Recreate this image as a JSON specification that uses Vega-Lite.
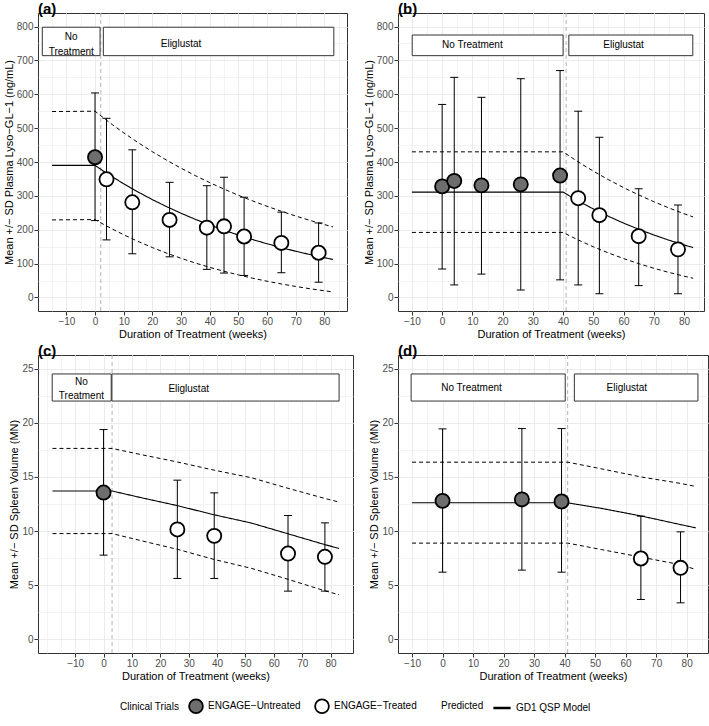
{
  "$schema": "https://vega.github.io/schema/vega-lite/v6.json",
  "padding": {"left": 2, "top": 1, "right": 3, "bottom": 0},
  "datasets": {
    "a_obs": [
      {"t": 0, "mean": 414, "lo": 227, "hi": 604, "group": "ENGAGE−Untreated"},
      {"t": 4, "mean": 349, "lo": 170, "hi": 529, "group": "ENGAGE−Treated"},
      {"t": 13, "mean": 281, "lo": 129, "hi": 436, "group": "ENGAGE−Treated"},
      {"t": 26, "mean": 229, "lo": 120, "hi": 340, "group": "ENGAGE−Treated"},
      {"t": 39, "mean": 206, "lo": 83, "hi": 330, "group": "ENGAGE−Treated"},
      {"t": 45, "mean": 210, "lo": 72, "hi": 355, "group": "ENGAGE−Treated"},
      {"t": 52, "mean": 180, "lo": 65, "hi": 296, "group": "ENGAGE−Treated"},
      {"t": 65, "mean": 161, "lo": 73, "hi": 252, "group": "ENGAGE−Treated"},
      {"t": 78, "mean": 132, "lo": 45, "hi": 220, "group": "ENGAGE−Treated"}
    ],
    "a_model": [
      {"t": -15, "mean": 390, "lo": 229, "hi": 549},
      {"t": 0, "mean": 390, "lo": 230, "hi": 550},
      {"t": 3, "mean": 372.8, "lo": 215.7, "hi": 529.9},
      {"t": 6, "mean": 356.4, "lo": 202.2, "hi": 510.6},
      {"t": 10, "mean": 335.7, "lo": 185.2, "hi": 486.2},
      {"t": 15, "mean": 311.4, "lo": 165.5, "hi": 457.3},
      {"t": 20, "mean": 288.9, "lo": 147.4, "hi": 430.4},
      {"t": 25, "mean": 268.0, "lo": 130.8, "hi": 405.2},
      {"t": 30, "mean": 248.7, "lo": 115.7, "hi": 381.7},
      {"t": 35, "mean": 230.7, "lo": 101.7, "hi": 359.7},
      {"t": 40, "mean": 214.0, "lo": 88.9, "hi": 339.1},
      {"t": 45, "mean": 198.6, "lo": 77.3, "hi": 319.9},
      {"t": 50, "mean": 184.2, "lo": 66.6, "hi": 301.8},
      {"t": 55, "mean": 170.9, "lo": 56.8, "hi": 285.0},
      {"t": 60, "mean": 158.6, "lo": 48.0, "hi": 269.2},
      {"t": 65, "mean": 147.1, "lo": 39.8, "hi": 254.4},
      {"t": 70, "mean": 136.5, "lo": 32.5, "hi": 240.5},
      {"t": 75, "mean": 126.6, "lo": 25.7, "hi": 227.5},
      {"t": 80, "mean": 117.5, "lo": 19.7, "hi": 215.3},
      {"t": 83, "mean": 112.3, "lo": 16.3, "hi": 208.3}
    ],
    "a_box": [
      {"label": "No\nTreatment", "x1": -18.4, "x2": 1.75, "y1": 714, "y2": 798, "tx": -8.3, "ty": 770},
      {"label": "Eliglustat", "x1": 2.9, "x2": 83.3, "y1": 714, "y2": 798, "tx": 30, "ty": 749}
    ],
    "a_vline": [{"t": 2}],
    "b_obs": [
      {"t": 0, "mean": 328, "lo": 84, "hi": 570, "group": "ENGAGE−Untreated"},
      {"t": 4, "mean": 344, "lo": 37, "hi": 650, "group": "ENGAGE−Untreated"},
      {"t": 13, "mean": 331, "lo": 69, "hi": 591, "group": "ENGAGE−Untreated"},
      {"t": 26, "mean": 334, "lo": 22, "hi": 646, "group": "ENGAGE−Untreated"},
      {"t": 39, "mean": 360, "lo": 52, "hi": 670, "group": "ENGAGE−Untreated"},
      {"t": 45, "mean": 293, "lo": 37, "hi": 550, "group": "ENGAGE−Treated"},
      {"t": 52, "mean": 243, "lo": 11, "hi": 473, "group": "ENGAGE−Treated"},
      {"t": 65, "mean": 181, "lo": 35, "hi": 321, "group": "ENGAGE−Treated"},
      {"t": 78, "mean": 142, "lo": 11, "hi": 273, "group": "ENGAGE−Treated"}
    ],
    "b_model": [
      {"t": -10, "mean": 311, "lo": 192, "hi": 430},
      {"t": 40, "mean": 311, "lo": 192, "hi": 430},
      {"t": 43, "mean": 295.2, "lo": 178.4, "hi": 412.0},
      {"t": 46, "mean": 280.2, "lo": 165.7, "hi": 394.7},
      {"t": 50, "mean": 261.3, "lo": 149.6, "hi": 373.0},
      {"t": 55, "mean": 239.6, "lo": 131.4, "hi": 347.8},
      {"t": 60, "mean": 219.6, "lo": 114.8, "hi": 324.4},
      {"t": 65, "mean": 201.3, "lo": 99.8, "hi": 302.8},
      {"t": 70, "mean": 184.5, "lo": 86.2, "hi": 282.8},
      {"t": 75, "mean": 169.1, "lo": 73.9, "hi": 264.3},
      {"t": 80, "mean": 155.1, "lo": 62.9, "hi": 247.3},
      {"t": 83, "mean": 147.2, "lo": 56.7, "hi": 237.7}
    ],
    "b_box": [
      {"label": "No Treatment", "x1": -9.9, "x2": 40, "y1": 714, "y2": 775, "tx": 10, "ty": 745},
      {"label": "Eliglustat", "x1": 41.9, "x2": 82.9, "y1": 714, "y2": 775, "tx": 60, "ty": 745}
    ],
    "b_vline": [{"t": 41}],
    "c_obs": [
      {"t": 0, "mean": 13.56, "lo": 7.78, "hi": 19.37, "group": "ENGAGE−Untreated"},
      {"t": 26, "mean": 10.15, "lo": 5.63, "hi": 14.7, "group": "ENGAGE−Treated"},
      {"t": 39, "mean": 9.56, "lo": 5.63, "hi": 13.53, "group": "ENGAGE−Treated"},
      {"t": 65, "mean": 7.93, "lo": 4.46, "hi": 11.44, "group": "ENGAGE−Treated"},
      {"t": 78, "mean": 7.63, "lo": 4.46, "hi": 10.76, "group": "ENGAGE−Treated"}
    ],
    "c_model": [
      {"t": -18, "mean": 13.7, "lo": 9.77, "hi": 17.63},
      {"t": 3, "mean": 13.7, "lo": 9.77, "hi": 17.63},
      {"t": 13, "mean": 13.1, "lo": 9.13, "hi": 17.07},
      {"t": 26, "mean": 12.35, "lo": 8.32, "hi": 16.38},
      {"t": 39, "mean": 11.5, "lo": 7.38, "hi": 15.62},
      {"t": 52, "mean": 10.75, "lo": 6.57, "hi": 14.93},
      {"t": 65, "mean": 9.75, "lo": 5.55, "hi": 13.95},
      {"t": 78, "mean": 8.75, "lo": 4.49, "hi": 13.01},
      {"t": 83, "mean": 8.4, "lo": 4.12, "hi": 12.68}
    ],
    "c_box": [
      {"label": "No\nTreatment", "x1": -18.1, "x2": 2.7, "y1": 22, "y2": 24.5, "tx": -7.8, "ty": 23.77},
      {"label": "Eliglustat", "x1": 2.95, "x2": 83, "y1": 22, "y2": 24.5, "tx": 30, "ty": 23.15}
    ],
    "c_vline": [{"t": 3}],
    "d_obs": [
      {"t": 0, "mean": 12.79, "lo": 6.21, "hi": 19.43, "group": "ENGAGE−Untreated"},
      {"t": 26, "mean": 12.92, "lo": 6.4, "hi": 19.46, "group": "ENGAGE−Untreated"},
      {"t": 39, "mean": 12.73, "lo": 6.21, "hi": 19.46, "group": "ENGAGE−Untreated"},
      {"t": 65, "mean": 7.47, "lo": 3.69, "hi": 11.38, "group": "ENGAGE−Treated"},
      {"t": 78, "mean": 6.61, "lo": 3.38, "hi": 9.93, "group": "ENGAGE−Treated"}
    ],
    "d_model": [
      {"t": -10, "mean": 12.61, "lo": 8.89, "hi": 16.36},
      {"t": 41, "mean": 12.61, "lo": 8.89, "hi": 16.36},
      {"t": 52, "mean": 12.1, "lo": 8.3, "hi": 15.75},
      {"t": 65, "mean": 11.4, "lo": 7.6, "hi": 15.0},
      {"t": 78, "mean": 10.6, "lo": 6.9, "hi": 14.4},
      {"t": 83, "mean": 10.3, "lo": 6.46, "hi": 14.12}
    ],
    "d_box": [
      {"label": "No Treatment", "x1": -10.3, "x2": 40.2, "y1": 22, "y2": 24.5, "tx": 9.5, "ty": 23.2},
      {"label": "Eliglustat", "x1": 43.2, "x2": 83.7, "y1": 22, "y2": 24.5, "tx": 60.4, "ty": 23.2}
    ],
    "d_vline": [{"t": 41}]
  },
  "vconcat": [
    {
      "hconcat": [
        {
          "title": "(a)",
          "width": 309, "height": 298,
          "layer": [
            {
              "data": {"name": "a_obs"},
              "mark": {"type": "point", "opacity": 0, "filled": true},
              "encoding": {
                "x": {"field": "t", "type": "quantitative", "scale": {"domain": [-19.9, 87.9], "nice": false, "zero": false},
                  "axis": {"orient": "bottom", "values": [-15,-10,-5,0,5,10,15,20,25,30,35,40,45,50,55,60,65,70,75,80,85], "tickCount": 60, "grid": true, "gridWidth": 0.6, "labels": false, "ticks": false, "domain": false, "title": null}},
                "y": {"field": "mean", "type": "quantitative", "scale": {"domain": [-40, 840], "nice": false, "zero": false},
                  "axis": {"orient": "left", "values": [0,50,100,150,200,250,300,350,400,450,500,550,600,650,700,750,800], "tickCount": 60, "grid": true, "gridWidth": 0.6, "labels": false, "ticks": false, "domain": false, "title": null}},
                "fill": {"field": "group", "type": "nominal", "scale": {"domain": ["ENGAGE−Untreated", "ENGAGE−Treated"], "range": ["#6e6e6e", "#ffffff"]},
                  "legend": {"title": "Clinical Trials", "symbolStrokeColor": "black", "symbolStrokeWidth": 1.8, "symbolSize": 190, "symbolOpacity": 1}}
              }
            },
            {
              "layer": [
                {
                  "data": {"name": "a_vline"},
                  "mark": {"type": "rule", "color": "#b3b3b3", "strokeDash": [4, 3], "strokeWidth": 1},
                  "encoding": {"x": {"field": "t", "type": "quantitative", "title": "Duration of Treatment (weeks)",
                    "axis": {"orient": "bottom", "values": [-10,0,10,20,30,40,50,60,70,80], "format": "d", "tickCount": 60, "grid": true, "gridWidth": 1}}}
                },
                {
                  "data": {"name": "a_model"},
                  "mark": {"type": "line", "color": "black", "strokeWidth": 1.1},
                  "encoding": {
                    "x": {"field": "t", "type": "quantitative", "title": "Duration of Treatment (weeks)"},
                    "y": {"field": "mean", "type": "quantitative", "title": "Mean +/− SD Plasma Lyso−GL−1 (ng/mL)",
                      "axis": {"orient": "left", "values": [0,100,200,300,400,500,600,700,800], "format": "d", "tickCount": 60, "grid": true, "gridWidth": 1}},
                    "strokeDash": {"datum": "GD1 QSP Model", "type": "nominal", "scale": {"domain": ["GD1 QSP Model"], "range": [[1, 0]]},
                      "legend": {"title": "Predicted", "symbolStrokeWidth": 2.5, "symbolSize": 300, "symbolStrokeColor": "black"}}
                  }
                },
                {
                  "data": {"name": "a_model"},
                  "mark": {"type": "line", "color": "black", "strokeWidth": 1, "strokeDash": [4, 3]},
                  "encoding": {"x": {"field": "t", "type": "quantitative", "title": "Duration of Treatment (weeks)"}, "y": {"field": "lo", "type": "quantitative", "title": "Mean +/− SD Plasma Lyso−GL−1 (ng/mL)"}}
                },
                {
                  "data": {"name": "a_model"},
                  "mark": {"type": "line", "color": "black", "strokeWidth": 1, "strokeDash": [4, 3]},
                  "encoding": {"x": {"field": "t", "type": "quantitative", "title": "Duration of Treatment (weeks)"}, "y": {"field": "hi", "type": "quantitative", "title": "Mean +/− SD Plasma Lyso−GL−1 (ng/mL)"}}
                },
                {
                  "data": {"name": "a_obs"},
                  "mark": {"type": "rule", "color": "black", "strokeWidth": 1},
                  "encoding": {"x": {"field": "t", "type": "quantitative", "title": "Duration of Treatment (weeks)"}, "y": {"field": "lo", "type": "quantitative", "title": "Mean +/− SD Plasma Lyso−GL−1 (ng/mL)"}, "y2": {"field": "hi"}}
                },
                {
                  "data": {"name": "a_obs"},
                  "mark": {"type": "tick", "orient": "horizontal", "size": 8, "thickness": 1, "color": "black", "opacity": 1},
                  "encoding": {"x": {"field": "t", "type": "quantitative", "title": "Duration of Treatment (weeks)"}, "y": {"field": "lo", "type": "quantitative", "title": "Mean +/− SD Plasma Lyso−GL−1 (ng/mL)"}}
                },
                {
                  "data": {"name": "a_obs"},
                  "mark": {"type": "tick", "orient": "horizontal", "size": 8, "thickness": 1, "color": "black", "opacity": 1},
                  "encoding": {"x": {"field": "t", "type": "quantitative", "title": "Duration of Treatment (weeks)"}, "y": {"field": "hi", "type": "quantitative", "title": "Mean +/− SD Plasma Lyso−GL−1 (ng/mL)"}}
                },
                {
                  "data": {"name": "a_obs"},
                  "mark": {"type": "point", "shape": "circle", "filled": true, "size": 200, "stroke": "black", "strokeWidth": 1.8, "opacity": 1},
                  "encoding": {
                    "x": {"field": "t", "type": "quantitative", "title": "Duration of Treatment (weeks)"},
                    "y": {"field": "mean", "type": "quantitative", "title": "Mean +/− SD Plasma Lyso−GL−1 (ng/mL)"},
                    "fill": {"field": "group", "type": "nominal"}
                  }
                },
                {
                  "data": {"name": "a_box"},
                  "mark": {"type": "rect", "fill": "white", "stroke": "#333333", "strokeWidth": 1},
                  "encoding": {"x": {"field": "x1", "type": "quantitative", "title": "Duration of Treatment (weeks)"}, "x2": {"field": "x2"}, "y": {"field": "y1", "type": "quantitative", "title": "Mean +/− SD Plasma Lyso−GL−1 (ng/mL)"}, "y2": {"field": "y2"}}
                },
                {
                  "data": {"name": "a_box"},
                  "mark": {"type": "text", "fontSize": 10, "lineBreak": "\n", "lineHeight": 15, "align": "center", "baseline": "middle", "color": "black"},
                  "encoding": {"x": {"field": "tx", "type": "quantitative", "title": "Duration of Treatment (weeks)"}, "y": {"field": "ty", "type": "quantitative", "title": "Mean +/− SD Plasma Lyso−GL−1 (ng/mL)"}, "text": {"field": "label", "type": "nominal"}}
                }
              ]
            }
          ],
          "resolve": {"axis": {"x": "independent", "y": "independent"}}
        },
        {
          "title": "(b)",
          "width": 306, "height": 298,
          "layer": [
            {
              "data": {"name": "b_obs"},
              "mark": {"type": "point", "opacity": 0},
              "encoding": {
                "x": {"field": "t", "type": "quantitative", "scale": {"domain": [-14.6, 86.6], "nice": false, "zero": false},
                  "axis": {"orient": "bottom", "values": [-10,-5,0,5,10,15,20,25,30,35,40,45,50,55,60,65,70,75,80,85], "tickCount": 60, "grid": true, "gridWidth": 0.6, "labels": false, "ticks": false, "domain": false, "title": null}},
                "y": {"field": "mean", "type": "quantitative", "scale": {"domain": [-40, 840], "nice": false, "zero": false},
                  "axis": {"orient": "left", "values": [0,50,100,150,200,250,300,350,400,450,500,550,600,650,700,750,800], "tickCount": 60, "grid": true, "gridWidth": 0.6, "labels": false, "ticks": false, "domain": false, "title": null}}
              }
            },
            {
              "layer": [
                {
                  "data": {"name": "b_vline"},
                  "mark": {"type": "rule", "color": "#b3b3b3", "strokeDash": [4, 3], "strokeWidth": 1},
                  "encoding": {"x": {"field": "t", "type": "quantitative", "title": "Duration of Treatment (weeks)",
                    "axis": {"orient": "bottom", "values": [-10,0,10,20,30,40,50,60,70,80], "format": "d", "tickCount": 60, "grid": true, "gridWidth": 1}}}
                },
                {
                  "data": {"name": "b_model"},
                  "mark": {"type": "line", "color": "black", "strokeWidth": 1.1},
                  "encoding": {
                    "x": {"field": "t", "type": "quantitative", "title": "Duration of Treatment (weeks)"},
                    "y": {"field": "mean", "type": "quantitative", "title": "Mean +/− SD Plasma Lyso−GL−1 (ng/mL)",
                      "axis": {"orient": "left", "values": [0,100,200,300,400,500,600,700,800], "format": "d", "tickCount": 60, "grid": true, "gridWidth": 1}},
                    "strokeDash": {"datum": "GD1 QSP Model", "type": "nominal"}
                  }
                },
                {
                  "data": {"name": "b_model"},
                  "mark": {"type": "line", "color": "black", "strokeWidth": 1, "strokeDash": [4, 3]},
                  "encoding": {"x": {"field": "t", "type": "quantitative", "title": "Duration of Treatment (weeks)"}, "y": {"field": "lo", "type": "quantitative", "title": "Mean +/− SD Plasma Lyso−GL−1 (ng/mL)"}}
                },
                {
                  "data": {"name": "b_model"},
                  "mark": {"type": "line", "color": "black", "strokeWidth": 1, "strokeDash": [4, 3]},
                  "encoding": {"x": {"field": "t", "type": "quantitative", "title": "Duration of Treatment (weeks)"}, "y": {"field": "hi", "type": "quantitative", "title": "Mean +/− SD Plasma Lyso−GL−1 (ng/mL)"}}
                },
                {
                  "data": {"name": "b_obs"},
                  "mark": {"type": "rule", "color": "black", "strokeWidth": 1},
                  "encoding": {"x": {"field": "t", "type": "quantitative", "title": "Duration of Treatment (weeks)"}, "y": {"field": "lo", "type": "quantitative", "title": "Mean +/− SD Plasma Lyso−GL−1 (ng/mL)"}, "y2": {"field": "hi"}}
                },
                {
                  "data": {"name": "b_obs"},
                  "mark": {"type": "tick", "orient": "horizontal", "size": 8, "thickness": 1, "color": "black", "opacity": 1},
                  "encoding": {"x": {"field": "t", "type": "quantitative", "title": "Duration of Treatment (weeks)"}, "y": {"field": "lo", "type": "quantitative", "title": "Mean +/− SD Plasma Lyso−GL−1 (ng/mL)"}}
                },
                {
                  "data": {"name": "b_obs"},
                  "mark": {"type": "tick", "orient": "horizontal", "size": 8, "thickness": 1, "color": "black", "opacity": 1},
                  "encoding": {"x": {"field": "t", "type": "quantitative", "title": "Duration of Treatment (weeks)"}, "y": {"field": "hi", "type": "quantitative", "title": "Mean +/− SD Plasma Lyso−GL−1 (ng/mL)"}}
                },
                {
                  "data": {"name": "b_obs"},
                  "mark": {"type": "point", "shape": "circle", "filled": true, "size": 200, "stroke": "black", "strokeWidth": 1.8, "opacity": 1},
                  "encoding": {
                    "x": {"field": "t", "type": "quantitative", "title": "Duration of Treatment (weeks)"},
                    "y": {"field": "mean", "type": "quantitative", "title": "Mean +/− SD Plasma Lyso−GL−1 (ng/mL)"},
                    "fill": {"field": "group", "type": "nominal"}
                  }
                },
                {
                  "data": {"name": "b_box"},
                  "mark": {"type": "rect", "fill": "white", "stroke": "#333333", "strokeWidth": 1},
                  "encoding": {"x": {"field": "x1", "type": "quantitative", "title": "Duration of Treatment (weeks)"}, "x2": {"field": "x2"}, "y": {"field": "y1", "type": "quantitative", "title": "Mean +/− SD Plasma Lyso−GL−1 (ng/mL)"}, "y2": {"field": "y2"}}
                },
                {
                  "data": {"name": "b_box"},
                  "mark": {"type": "text", "fontSize": 10, "lineBreak": "\n", "lineHeight": 15, "align": "center", "baseline": "middle", "color": "black"},
                  "encoding": {"x": {"field": "tx", "type": "quantitative", "title": "Duration of Treatment (weeks)"}, "y": {"field": "ty", "type": "quantitative", "title": "Mean +/− SD Plasma Lyso−GL−1 (ng/mL)"}, "text": {"field": "label", "type": "nominal"}}
                }
              ]
            }
          ],
          "resolve": {"axis": {"x": "independent", "y": "independent"}}
        }
      ]
    },
    {
      "hconcat": [
        {
          "title": "(c)",
          "width": 315, "height": 298,
          "layer": [
            {
              "data": {"name": "c_obs"},
              "mark": {"type": "point", "opacity": 0},
              "encoding": {
                "x": {"field": "t", "type": "quantitative", "scale": {"domain": [-23.1, 87.9], "nice": false, "zero": false},
                  "axis": {"orient": "bottom", "values": [-20,-15,-10,-5,0,5,10,15,20,25,30,35,40,45,50,55,60,65,70,75,80,85], "tickCount": 60, "grid": true, "gridWidth": 0.6, "labels": false, "ticks": false, "domain": false, "title": null}},
                "y": {"field": "mean", "type": "quantitative", "scale": {"domain": [-1.25, 26.25], "nice": false, "zero": false},
                  "axis": {"orient": "left", "values": [0,2.5,5,7.5,10,12.5,15,17.5,20,22.5,25], "tickCount": 60, "grid": true, "gridWidth": 0.6, "labels": false, "ticks": false, "domain": false, "title": null}}
              }
            },
            {
              "layer": [
                {
                  "data": {"name": "c_vline"},
                  "mark": {"type": "rule", "color": "#b3b3b3", "strokeDash": [4, 3], "strokeWidth": 1},
                  "encoding": {"x": {"field": "t", "type": "quantitative", "title": "Duration of Treatment (weeks)",
                    "axis": {"orient": "bottom", "values": [-10,0,10,20,30,40,50,60,70,80], "format": "d", "tickCount": 60, "grid": true, "gridWidth": 1}}}
                },
                {
                  "data": {"name": "c_model"},
                  "mark": {"type": "line", "color": "black", "strokeWidth": 1.1},
                  "encoding": {
                    "x": {"field": "t", "type": "quantitative", "title": "Duration of Treatment (weeks)"},
                    "y": {"field": "mean", "type": "quantitative", "title": "Mean +/− SD Spleen Volume (MN)",
                      "axis": {"orient": "left", "values": [0,5,10,15,20,25], "format": "d", "tickCount": 60, "grid": true, "gridWidth": 1}},
                    "strokeDash": {"datum": "GD1 QSP Model", "type": "nominal"}
                  }
                },
                {
                  "data": {"name": "c_model"},
                  "mark": {"type": "line", "color": "black", "strokeWidth": 1, "strokeDash": [4, 3]},
                  "encoding": {"x": {"field": "t", "type": "quantitative", "title": "Duration of Treatment (weeks)"}, "y": {"field": "lo", "type": "quantitative", "title": "Mean +/− SD Spleen Volume (MN)"}}
                },
                {
                  "data": {"name": "c_model"},
                  "mark": {"type": "line", "color": "black", "strokeWidth": 1, "strokeDash": [4, 3]},
                  "encoding": {"x": {"field": "t", "type": "quantitative", "title": "Duration of Treatment (weeks)"}, "y": {"field": "hi", "type": "quantitative", "title": "Mean +/− SD Spleen Volume (MN)"}}
                },
                {
                  "data": {"name": "c_obs"},
                  "mark": {"type": "rule", "color": "black", "strokeWidth": 1},
                  "encoding": {"x": {"field": "t", "type": "quantitative", "title": "Duration of Treatment (weeks)"}, "y": {"field": "lo", "type": "quantitative", "title": "Mean +/− SD Spleen Volume (MN)"}, "y2": {"field": "hi"}}
                },
                {
                  "data": {"name": "c_obs"},
                  "mark": {"type": "tick", "orient": "horizontal", "size": 8, "thickness": 1, "color": "black", "opacity": 1},
                  "encoding": {"x": {"field": "t", "type": "quantitative", "title": "Duration of Treatment (weeks)"}, "y": {"field": "lo", "type": "quantitative", "title": "Mean +/− SD Spleen Volume (MN)"}}
                },
                {
                  "data": {"name": "c_obs"},
                  "mark": {"type": "tick", "orient": "horizontal", "size": 8, "thickness": 1, "color": "black", "opacity": 1},
                  "encoding": {"x": {"field": "t", "type": "quantitative", "title": "Duration of Treatment (weeks)"}, "y": {"field": "hi", "type": "quantitative", "title": "Mean +/− SD Spleen Volume (MN)"}}
                },
                {
                  "data": {"name": "c_obs"},
                  "mark": {"type": "point", "shape": "circle", "filled": true, "size": 200, "stroke": "black", "strokeWidth": 1.8, "opacity": 1},
                  "encoding": {
                    "x": {"field": "t", "type": "quantitative", "title": "Duration of Treatment (weeks)"},
                    "y": {"field": "mean", "type": "quantitative", "title": "Mean +/− SD Spleen Volume (MN)"},
                    "fill": {"field": "group", "type": "nominal"}
                  }
                },
                {
                  "data": {"name": "c_box"},
                  "mark": {"type": "rect", "fill": "white", "stroke": "#333333", "strokeWidth": 1},
                  "encoding": {"x": {"field": "x1", "type": "quantitative", "title": "Duration of Treatment (weeks)"}, "x2": {"field": "x2"}, "y": {"field": "y1", "type": "quantitative", "title": "Mean +/− SD Spleen Volume (MN)"}, "y2": {"field": "y2"}}
                },
                {
                  "data": {"name": "c_box"},
                  "mark": {"type": "text", "fontSize": 10, "lineBreak": "\n", "lineHeight": 14, "align": "center", "baseline": "middle", "color": "black"},
                  "encoding": {"x": {"field": "tx", "type": "quantitative", "title": "Duration of Treatment (weeks)"}, "y": {"field": "ty", "type": "quantitative", "title": "Mean +/− SD Spleen Volume (MN)"}, "text": {"field": "label", "type": "nominal"}}
                }
              ]
            }
          ],
          "resolve": {"axis": {"x": "independent", "y": "independent"}}
        },
        {
          "title": "(d)",
          "width": 310, "height": 298,
          "layer": [
            {
              "data": {"name": "d_obs"},
              "mark": {"type": "point", "opacity": 0},
              "encoding": {
                "x": {"field": "t", "type": "quantitative", "scale": {"domain": [-14.6, 87], "nice": false, "zero": false},
                  "axis": {"orient": "bottom", "values": [-10,-5,0,5,10,15,20,25,30,35,40,45,50,55,60,65,70,75,80,85], "tickCount": 60, "grid": true, "gridWidth": 0.6, "labels": false, "ticks": false, "domain": false, "title": null}},
                "y": {"field": "mean", "type": "quantitative", "scale": {"domain": [-1.25, 26.25], "nice": false, "zero": false},
                  "axis": {"orient": "left", "values": [0,2.5,5,7.5,10,12.5,15,17.5,20,22.5,25], "tickCount": 60, "grid": true, "gridWidth": 0.6, "labels": false, "ticks": false, "domain": false, "title": null}}
              }
            },
            {
              "layer": [
                {
                  "data": {"name": "d_vline"},
                  "mark": {"type": "rule", "color": "#b3b3b3", "strokeDash": [4, 3], "strokeWidth": 1},
                  "encoding": {"x": {"field": "t", "type": "quantitative", "title": "Duration of Treatment (weeks)",
                    "axis": {"orient": "bottom", "values": [-10,0,10,20,30,40,50,60,70,80], "format": "d", "tickCount": 60, "grid": true, "gridWidth": 1}}}
                },
                {
                  "data": {"name": "d_model"},
                  "mark": {"type": "line", "color": "black", "strokeWidth": 1.1},
                  "encoding": {
                    "x": {"field": "t", "type": "quantitative", "title": "Duration of Treatment (weeks)"},
                    "y": {"field": "mean", "type": "quantitative", "title": "Mean +/− SD Spleen Volume (MN)",
                      "axis": {"orient": "left", "values": [0,5,10,15,20,25], "format": "d", "tickCount": 60, "grid": true, "gridWidth": 1}},
                    "strokeDash": {"datum": "GD1 QSP Model", "type": "nominal"}
                  }
                },
                {
                  "data": {"name": "d_model"},
                  "mark": {"type": "line", "color": "black", "strokeWidth": 1, "strokeDash": [4, 3]},
                  "encoding": {"x": {"field": "t", "type": "quantitative", "title": "Duration of Treatment (weeks)"}, "y": {"field": "lo", "type": "quantitative", "title": "Mean +/− SD Spleen Volume (MN)"}}
                },
                {
                  "data": {"name": "d_model"},
                  "mark": {"type": "line", "color": "black", "strokeWidth": 1, "strokeDash": [4, 3]},
                  "encoding": {"x": {"field": "t", "type": "quantitative", "title": "Duration of Treatment (weeks)"}, "y": {"field": "hi", "type": "quantitative", "title": "Mean +/− SD Spleen Volume (MN)"}}
                },
                {
                  "data": {"name": "d_obs"},
                  "mark": {"type": "rule", "color": "black", "strokeWidth": 1},
                  "encoding": {"x": {"field": "t", "type": "quantitative", "title": "Duration of Treatment (weeks)"}, "y": {"field": "lo", "type": "quantitative", "title": "Mean +/− SD Spleen Volume (MN)"}, "y2": {"field": "hi"}}
                },
                {
                  "data": {"name": "d_obs"},
                  "mark": {"type": "tick", "orient": "horizontal", "size": 8, "thickness": 1, "color": "black", "opacity": 1},
                  "encoding": {"x": {"field": "t", "type": "quantitative", "title": "Duration of Treatment (weeks)"}, "y": {"field": "lo", "type": "quantitative", "title": "Mean +/− SD Spleen Volume (MN)"}}
                },
                {
                  "data": {"name": "d_obs"},
                  "mark": {"type": "tick", "orient": "horizontal", "size": 8, "thickness": 1, "color": "black", "opacity": 1},
                  "encoding": {"x": {"field": "t", "type": "quantitative", "title": "Duration of Treatment (weeks)"}, "y": {"field": "hi", "type": "quantitative", "title": "Mean +/− SD Spleen Volume (MN)"}}
                },
                {
                  "data": {"name": "d_obs"},
                  "mark": {"type": "point", "shape": "circle", "filled": true, "size": 200, "stroke": "black", "strokeWidth": 1.8, "opacity": 1},
                  "encoding": {
                    "x": {"field": "t", "type": "quantitative", "title": "Duration of Treatment (weeks)"},
                    "y": {"field": "mean", "type": "quantitative", "title": "Mean +/− SD Spleen Volume (MN)"},
                    "fill": {"field": "group", "type": "nominal"}
                  }
                },
                {
                  "data": {"name": "d_box"},
                  "mark": {"type": "rect", "fill": "white", "stroke": "#333333", "strokeWidth": 1},
                  "encoding": {"x": {"field": "x1", "type": "quantitative", "title": "Duration of Treatment (weeks)"}, "x2": {"field": "x2"}, "y": {"field": "y1", "type": "quantitative", "title": "Mean +/− SD Spleen Volume (MN)"}, "y2": {"field": "y2"}}
                },
                {
                  "data": {"name": "d_box"},
                  "mark": {"type": "text", "fontSize": 10, "lineBreak": "\n", "lineHeight": 14, "align": "center", "baseline": "middle", "color": "black"},
                  "encoding": {"x": {"field": "tx", "type": "quantitative", "title": "Duration of Treatment (weeks)"}, "y": {"field": "ty", "type": "quantitative", "title": "Mean +/− SD Spleen Volume (MN)"}, "text": {"field": "label", "type": "nominal"}}
                }
              ]
            }
          ],
          "resolve": {"axis": {"x": "independent", "y": "independent"}}
        }
      ]
    }
  ],
  "spacing": 3,
  "config": {
    "font": "Liberation Sans",
    "concat": {"spacing": 14},
    "view": {"stroke": "#333333", "strokeWidth": 1},
    "axis": {
      "domain": false, "gridColor": "#ebebeb", "tickColor": "#333333", "tickSize": 4,
      "labelColor": "#4d4d4d", "labelFontSize": 10, "labelPadding": 1, "labelFlush": false, "labelOverlap": false,
      "labelFont": "Liberation Sans", "titleFont": "Liberation Sans",
      "titleFontSize": 11, "titleFontWeight": "normal", "titleColor": "black", "titlePadding": 2
    },
    "title": {"anchor": "start", "frame": "group", "fontSize": 15, "fontWeight": "bold", "font": "Liberation Sans", "offset": -4, "color": "black"},
    "legend": {
      "orient": "bottom", "direction": "horizontal", "titleOrient": "left", "titleAnchor": "middle", "titleBaseline": "middle",
      "labelFontSize": 10, "titleFontSize": 10, "titleFontWeight": "normal", "titleColor": "black", "labelColor": "black",
      "labelFont": "Liberation Sans", "titleFont": "Liberation Sans", "offset": 16, "columnPadding": 10, "titlePadding": 8,
      "layout": {"bottom": {"anchor": "middle", "direction": "horizontal", "margin": 24}}
    }
  }
}
